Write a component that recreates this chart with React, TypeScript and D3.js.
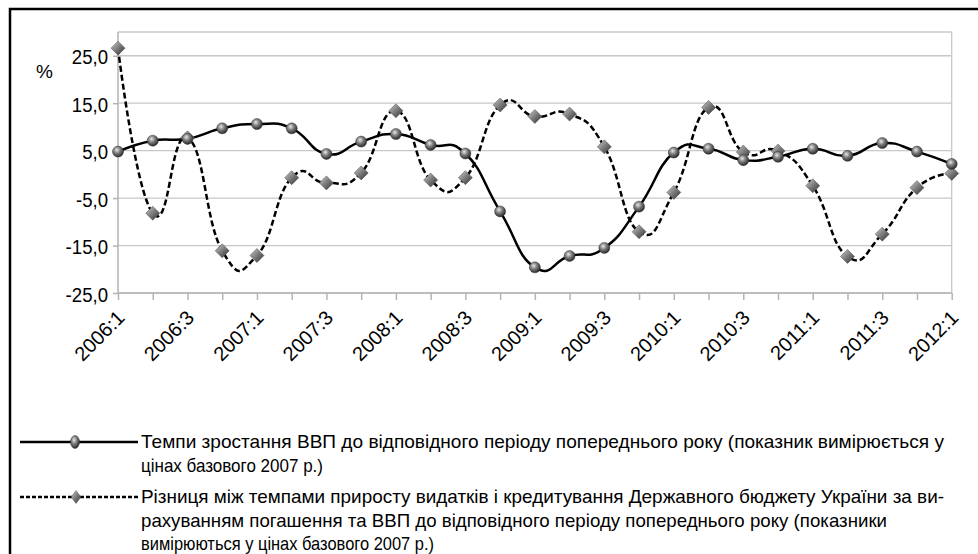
import React, { useRef, useEffect } from 'react';
import * as d3 from 'd3';

const quarters: string[] = [
    '2006:1', '2006:2', '2006:3', '2006:4',
    '2007:1', '2007:2', '2007:3', '2007:4',
    '2008:1', '2008:2', '2008:3', '2008:4',
    '2009:1', '2009:2', '2009:3', '2009:4',
    '2010:1', '2010:2', '2010:3', '2010:4',
    '2011:1', '2011:2', '2011:3', '2011:4',
    '2012:1',
];

// Темпи зростання ВВП
const gdpGrowth: number[] = [
    4.8, 7.1, 7.5, 9.7, 10.6, 9.7, 4.3, 6.9, 8.5, 6.2, 4.4, -7.8, -19.6,
    -17.2, -15.5, -6.8, 4.6, 5.4, 3.0, 3.7, 5.4, 3.9, 6.6, 4.8, 2.2,
];

// Різниця між темпами приросту видатків і ВВП
const spendingGap: number[] = [
    26.6, -8.2, 7.7, -16.1, -17.1, -0.7, -1.8, 0.3, 13.4, -1.2, -0.7, 14.6, 12.2,
    12.7, 5.8, -12.1, -3.8, 14.1, 4.7, 4.9, -2.4, -17.3, -12.6, -2.8, 0.2,
];

const yTicks: number[] = [-25, -15, -5, 5, 15, 25];

const legendGdp: string[] = [
    'Темпи зростання ВВП до відповідного періоду попереднього року (показник вимірюється у',
    'цінах базового 2007 р.)',
];
const legendGap: string[] = [
    'Різниця між темпами приросту видатків і кредитування Державного бюджету України за ви-',
    'рахуванням погашення та ВВП до відповідного періоду попереднього року (показники',
    'вимірюються у цінах базового 2007 р.)',
];

const FONT = "'Liberation Sans', Arial, sans-serif";

const drawChart = (svg: d3.Selection<SVGSVGElement, unknown, null, undefined>): void => {
    svg.selectAll('*').remove();

    const left = 118, right = 951.7, top = 32, bottom = 293;

    const x = d3.scalePoint<string>().domain(quarters).range([left, right]);
    const y = d3.scaleLinear().domain([-25, 30]).range([bottom, top]);

    // gradients for markers
    const defs = svg.append('defs');
    const ball = defs.append('radialGradient').attr('id', 'ball')
        .attr('cx', '40%').attr('cy', '35%').attr('r', '65%');
    ball.append('stop').attr('offset', '0%').attr('stop-color', '#e8e8e8');
    ball.append('stop').attr('offset', '45%').attr('stop-color', '#808080');
    ball.append('stop').attr('offset', '100%').attr('stop-color', '#2a2a2a');
    const dia = defs.append('linearGradient').attr('id', 'dia')
        .attr('x1', '0%').attr('y1', '0%').attr('x2', '100%').attr('y2', '100%');
    dia.append('stop').attr('offset', '0%').attr('stop-color', '#d0d0d0');
    dia.append('stop').attr('offset', '50%').attr('stop-color', '#7a7a7a');
    dia.append('stop').attr('offset', '100%').attr('stop-color', '#303030');

    // outer frame
    svg.append('rect')
        .attr('x', 10).attr('y', 9).attr('width', 1000).attr('height', 600)
        .attr('fill', 'none').attr('stroke', '#000').attr('stroke-width', 2.5);

    // gridlines
    svg.append('g').selectAll('line')
        .data([...yTicks, 30])
        .enter().append('line')
        .attr('x1', left).attr('x2', right)
        .attr('y1', d => y(d)).attr('y2', d => y(d))
        .attr('stroke', '#c8c8c8').attr('stroke-width', 1.3);

    // plot border right
    svg.append('line')
        .attr('x1', right).attr('x2', right).attr('y1', top).attr('y2', bottom)
        .attr('stroke', '#c8c8c8').attr('stroke-width', 1.3);

    // Y axis
    const yAxis = svg.append('g')
        .attr('transform', `translate(${left},0)`)
        .call(d3.axisLeft(y).tickValues(yTicks).tickSize(5).tickPadding(5)
            .tickFormat(d => d3.format('.1f')(d as number).replace('.', ',').replace('−', '-')));
    yAxis.select('.domain').attr('stroke', '#b4b4b4').attr('stroke-width', 1.5)
        .attr('d', `M0,${bottom}V${top}`);
    yAxis.selectAll('.tick line').attr('stroke', '#b4b4b4').attr('stroke-width', 1.5);
    yAxis.selectAll('.tick text')
        .attr('font-family', FONT).attr('font-size', 20).attr('fill', '#000')
        .attr('dy', '0.4em')
        .attr('textLength', function () {
            return (this as SVGTextElement).getComputedTextLength() * 0.93;
        })
        .attr('lengthAdjust', 'spacingAndGlyphs');

    // X axis
    const xAxis = svg.append('g')
        .attr('transform', `translate(0,${bottom})`)
        .call(d3.axisBottom(x).tickSize(7).tickFormat(() => ''));
    xAxis.select('.domain').attr('stroke', '#b4b4b4').attr('stroke-width', 1.5)
        .attr('d', `M${left},0H${right}`);
    xAxis.selectAll('.tick line').attr('stroke', '#b4b4b4').attr('stroke-width', 1.5);

    // rotated category labels
    svg.append('g').selectAll('text')
        .data(quarters.filter((_, i) => i % 2 === 0))
        .enter().append('text')
        .attr('transform', d => `translate(${x(d)! + 3},${bottom + 21}) rotate(-45)`)
        .attr('text-anchor', 'end')
        .attr('dy', '0.35em')
        .attr('font-family', FONT).attr('font-size', 20)
        .text(d => d);

    // % label
    svg.append('text')
        .attr('x', 36).attr('y', 78)
        .attr('font-family', FONT).attr('font-size', 19)
        .text('%');

    const line = d3.line<number>()
        .x((_, i) => x(quarters[i])!)
        .y(d => y(d))
        .curve(d3.curveCardinal.tension(-0.5));

    // dashed series
    svg.append('path')
        .datum(spendingGap)
        .attr('d', line)
        .attr('fill', 'none').attr('stroke', '#000')
        .attr('stroke-width', 2.5).attr('stroke-dasharray', '6,3');

    // solid series
    svg.append('path')
        .datum(gdpGrowth)
        .attr('d', line)
        .attr('fill', 'none').attr('stroke', '#000')
        .attr('stroke-width', 2.5);

    const diamond = (s: number) => `M0,${-s}L${s},0L0,${s}L${-s},0Z`;

    svg.append('g').selectAll('path')
        .data(spendingGap)
        .enter().append('path')
        .attr('transform', (d, i) => `translate(${x(quarters[i])},${y(d)})`)
        .attr('d', diamond(7))
        .attr('fill', 'url(#dia)').attr('stroke', '#444').attr('stroke-width', 0.5);

    svg.append('g').selectAll('circle')
        .data(gdpGrowth)
        .enter().append('circle')
        .attr('cx', (_, i) => x(quarters[i])!)
        .attr('cy', d => y(d))
        .attr('r', 5.5)
        .attr('fill', 'url(#ball)').attr('stroke', '#333').attr('stroke-width', 0.5);

    // legend
    const lg = svg.append('g');
    lg.append('line').attr('x1', 20).attr('x2', 138).attr('y1', 442).attr('y2', 442)
        .attr('stroke', '#000').attr('stroke-width', 2.5);
    lg.append('ellipse').attr('cx', 75).attr('cy', 442).attr('rx', 4.5).attr('ry', 6.5)
        .attr('fill', 'url(#ball)').attr('stroke', '#333').attr('stroke-width', 0.5);
    lg.append('line').attr('x1', 20).attr('x2', 138).attr('y1', 497).attr('y2', 497)
        .attr('stroke', '#000').attr('stroke-width', 2.5).attr('stroke-dasharray', '4,2');
    lg.append('path').attr('transform', 'translate(76,497) scale(0.75,1)').attr('d', diamond(6.5))
        .attr('fill', 'url(#dia)').attr('stroke', '#444').attr('stroke-width', 0.5);

    const gdpWidths = [803, 182];
    const gapWidths = [803, 746, 293];
    lg.selectAll('text.g1')
        .data(legendGdp)
        .enter().append('text')
        .attr('class', 'g1')
        .attr('x', 141).attr('y', (_, i) => 448 + i * 24)
        .attr('font-family', FONT).attr('font-size', 19)
        .attr('textLength', (_, i) => gdpWidths[i]).attr('lengthAdjust', 'spacingAndGlyphs')
        .text(d => d);
    lg.selectAll('text.g2')
        .data(legendGap)
        .enter().append('text')
        .attr('class', 'g2')
        .attr('x', 141).attr('y', (_, i) => 503 + i * 23.5)
        .attr('font-family', FONT).attr('font-size', 19)
        .attr('textLength', (_, i) => gapWidths[i]).attr('lengthAdjust', 'spacingAndGlyphs')
        .text(d => d);
};

const App: React.FC = () => {
    const ref = useRef<SVGSVGElement>(null);

    useEffect(() => {
        if (ref.current) {
            drawChart(d3.select(ref.current));
        }
    }, []);

    return (
        <svg
            ref={ref}
            width={978}
            height={554}
            style={{ position: 'absolute', left: 0, top: 0, background: '#fff' }}
        />
    );
};

export default App;
